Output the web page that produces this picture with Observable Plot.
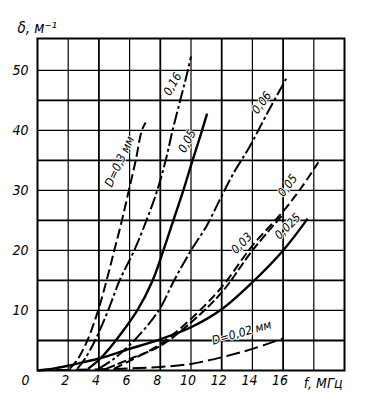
<!DOCTYPE html>
<html><head><meta charset="utf-8">
<script src="https://cdn.jsdelivr.net/npm/d3@7"></script>
<script src="https://cdn.jsdelivr.net/npm/@observablehq/plot@0.6"></script>
<style>body{margin:0;background:#fff}</style>
</head><body><div id="chart"></div>
<script>
// Tick labels and grid positions
const xTicks = [2, 4, 6, 8, 10, 12, 14, 16];
const xOrigin = [0];
const yTicks = [10, 20, 30, 40, 50];
const gridX = [2, 4, 6, 8, 10, 12, 14, 16, 18];
const gridY = [5, 10, 15, 20, 25, 30, 35, 40, 45, 50];
const xLabel = "f, МГц";
const yLabel = "δ, м⁻¹";

// Curves: [f (MHz), δ (1/m)]
const cD03 = [[2.1,0.3],[2.6,1.8],[3.25,5],[3.95,10],[4.5,15],[5.0,20],[5.5,25],[5.95,30],[6.4,35],[6.8,40],[7.05,41.3]];
const c016 = [[2.6,0.3],[3.1,2],[3.75,5],[4.6,10],[5.35,15],[6.3,20],[7.1,25],[7.8,30],[8.35,35],[8.8,40],[9.3,45],[9.7,49],[10.0,52.3]];
const c005s = [[3.3,0.3],[4.1,2],[5.1,5],[6.5,10],[7.5,15],[8.2,20],[8.85,25],[9.5,30],[10.1,35],[10.6,39],[11.05,42.8]];
const c006 = [[4.0,0.3],[5.0,2],[6.3,5],[7.9,10],[8.9,15],[10.0,20],[11.0,24],[11.85,28.3],[12.8,33],[13.8,37.2],[15.0,43],[16.2,48.6]];
const c005d = [[5.0,0.3],[6.0,1.6],[8.0,4.4],[10.0,8.6],[12.0,13.9],[14.0,20.8],[16.0,26.5],[17.2,30.5],[18.3,34.7]];
const c003 = [[4.5,0.3],[6.0,1.9],[8.0,4.1],[10.0,8.0],[12.0,13.0],[14.0,20.0],[15.9,25.7]];
const c0025 = [[0,0],[1,0.3],[2,0.8],[3,1.4],[4,2.0],[6,3.6],[8,5.2],[10,7.2],[12,10.2],[14,14.7],[16,20.0],[17.6,25.3]];
const cD002 = [[0,0.05],[2,0.1],[4,0.2],[6,0.35],[8,0.6],[10,1.1],[12,2.2],[14,3.6],[16.05,5.4]];

// Curve labels: [text, f, δ, rotation]
const curveLabels = [
  ["D=0,3 мм", 5.35, 34.8, -65],
  ["0,16", 8.8, 47.7, -60],
  ["0,05", 9.75, 38.2, -62],
  ["0,06", 14.6, 44.6, -53],
  ["0,05", 16.3, 30.8, -53],
  ["0,03", 13.3, 21.2, -45],
  ["0,025", 16.3, 24.0, -45],
  ["D=0,02 мм", 13.3, 6.3, -16]
];

const font = "'Liberation Sans Narrow', 'DejaVu Sans Condensed', 'Liberation Sans', sans-serif";

const curve = (pts, dash, w) => Plot.line(pts, {
  x: d => d[0], y: d => d[1], stroke: "#000", strokeWidth: w,
  strokeDasharray: dash, curve: "catmull-rom", strokeLinecap: "butt"
});

const chart = Plot.plot({
  width: 370, height: 408,
  marginLeft: 37, marginRight: 26, marginTop: 38, marginBottom: 38,
  x: {domain: [0, 20], axis: null},
  y: {domain: [0, 55.3], axis: null},
  style: {background: "#fff", fontFamily: font},
  marks: [
    Plot.ruleX(gridX, {stroke: "#000", strokeWidth: d => d % 4 === 0 ? 1.8 : 1.2}),
    Plot.ruleY(gridY, {stroke: "#000", strokeWidth: d => d % 10 === 5 ? 1.8 : 1.2}),
    Plot.frame({stroke: "#000", strokeWidth: 2}),
    curve(cD03, "10,4", 2),
    curve(c016, "13,3,3,3", 2),
    curve(c005s, null, 2.4),
    curve(c006, "13,3,3,3", 2),
    curve(c005d, "9,4", 2),
    curve(c003, "9,3", 2),
    curve(c0025, null, 2.4),
    curve(cD002, "14,5", 2),
    ...curveLabels.map(l => Plot.text([l], {
      x: d => d[1], y: d => d[2], text: d => d[0], rotate: l[3],
      fontSize: 12, fontStyle: "italic", fill: "#000", stroke: "#fff", strokeWidth: 2, paintOrder: "stroke"
    })),
    Plot.text(xTicks, {x: d => d, frameAnchor: "bottom", dy: 14, dx: -3, text: d => String(d),
      fontSize: 14, fontStyle: "italic", fill: "#000"}),
    Plot.text(xOrigin, {x: d => d, frameAnchor: "bottom", dy: 14, dx: -12, text: d => String(d),
      fontSize: 14, fontStyle: "italic", fill: "#000"}),
    Plot.text(yTicks, {y: d => d, frameAnchor: "left", dx: -9, textAnchor: "end", text: d => String(d),
      fontSize: 14, fontStyle: "italic", fill: "#000"}),
    Plot.text([xLabel], {frameAnchor: "bottom-right", dy: 17, dx: -2, textAnchor: "end", text: d => d,
      fontSize: 14, fontStyle: "italic", fill: "#000"}),
    Plot.text([yLabel], {frameAnchor: "top-left", dy: -16, dx: -20, textAnchor: "start", text: d => d,
      fontSize: 15, fontStyle: "italic", fill: "#000"})
  ]
});
document.getElementById("chart").appendChild(chart);
</script>
</body></html>
